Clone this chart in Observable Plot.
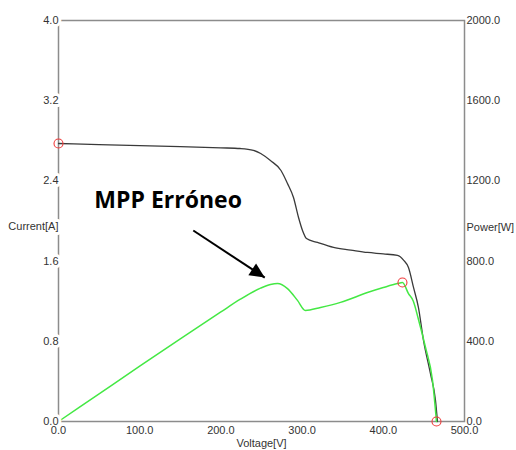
<!DOCTYPE html>
<html><head><meta charset="utf-8">
<script src="https://cdn.jsdelivr.net/npm/d3@7"></script>
<script src="https://cdn.jsdelivr.net/npm/@observablehq/plot@0.6"></script>
<style>body{margin:0;background:#fff} svg{display:block}</style>
</head><body><div id="chart"></div>
<script>
// I-V curve (current, A)
const currentVoltage = [0, 50, 100, 150, 200, 224, 240, 249, 261, 274, 282, 289.4, 295.6, 300.5, 305.4, 319, 338.7, 360, 380.5, 400, 417.5, 424.9, 431, 437.2, 443.3, 449.5, 458, 464.3, 466.7];
const currentAmps    = [2.773, 2.762, 2.752, 2.742, 2.73, 2.723, 2.705, 2.673, 2.603, 2.504, 2.374, 2.234, 2.035, 1.905, 1.825, 1.786, 1.736, 1.71, 1.686, 1.672, 1.656, 1.61, 1.536, 1.337, 1.137, 0.808, 0.479, 0.209, 0];
// P-V curve (power, W)
const powerVoltage = [0, 50, 100, 150, 199.5, 224, 248.8, 261, 269.7, 282, 294.3, 304, 322.7, 347.3, 380.5, 400, 417.5, 423.6, 431, 437, 443, 452, 460.6, 465.5];
const powerWatts   = [0, 138, 276, 412, 545, 610, 665, 683, 688, 663, 604, 554, 569, 594, 643, 668, 688, 693, 638, 600, 514, 369, 205, 0];
// tick labels
const voltageTicks = [0, 100, 200, 300, 400, 500];
const currentTicks = [0, 0.8, 1.6, 2.4, 3.2, 4.0];
const powerTicks   = [0, 400, 800, 1200, 1600, 2000];
// red marker circles
const markerVoltage = [0, 423.6, 465.5];
const markerSeries  = ["current", "power", "power"];
const markerValue   = [2.773, 693, 0];
// annotation
const annotationText = ["MPP Erróneo"];
const annotationVoltage = [135];
const annotationCurrent = [2.2];
const arrowFromVoltage = [166], arrowFromCurrent = [1.905];
const arrowToVoltage = [254], arrowToCurrent = [1.436];

const W = 516, H = 450, mL = 58, mR = 52, mT = 20, mB = 29;
const vMax = 500, iMax = 4, pMax = 2000;
const pk = pMax / iMax; // watts per amp on shared vertical scale

const currentData = currentVoltage.map((v, i) => ({v, a: currentAmps[i]}));
const powerData = powerVoltage.map((v, i) => ({v, a: powerWatts[i] / pk}));
const markers = markerVoltage.map((v, i) => ({v, a: markerSeries[i] === "power" ? markerValue[i] / pk : markerValue[i]}));
const arrows = arrowFromVoltage.map((v, i) => ({x1: v, y1: arrowFromCurrent[i], x2: arrowToVoltage[i], y2: arrowToCurrent[i]}));

// direction of the arrow in screen space for the filled head
const sx = d3.scaleLinear([0, vMax], [mL, W - mR]);
const sy = d3.scaleLinear([0, iMax], [H - mB, mT]);
const ang = Math.atan2(sy(arrows[0].y2) - sy(arrows[0].y1), sx(arrows[0].x2) - sx(arrows[0].x1));
const arrowHead = {
  draw(ctx) {
    const L = 15, w = 7, c = Math.cos(ang), s = Math.sin(ang);
    const pt = (x, y) => [x * c - y * s, x * s + y * c];
    const a = pt(0, 0), b = pt(-L, -w), d = pt(-L, w);
    ctx.moveTo(a[0], a[1]); ctx.lineTo(b[0], b[1]); ctx.lineTo(d[0], d[1]); ctx.closePath();
  }
};

const chart = Plot.plot({
  width: W, height: H,
  marginLeft: mL, marginRight: mR, marginTop: mT, marginBottom: mB,
  x: {domain: [0, vMax], axis: null},
  y: {domain: [0, iMax], axis: null},
  style: {fontFamily: "'Liberation Sans', Arial, sans-serif", fontSize: "11px", color: "#333", background: "#fff"},
  marks: [
    Plot.frame({stroke: "#8c8c8c", strokeWidth: 1.5}),
    Plot.line(currentData, {x: "v", y: "a", stroke: "#3a3a3a", strokeWidth: 1.3, curve: "monotone-x"}),
    Plot.line(powerData, {x: "v", y: "a", stroke: "#44e844", strokeWidth: 1.5, curve: "monotone-x"}),
    Plot.dot(markers, {x: "v", y: "a", r: 4.5, stroke: "#f03c3c", strokeWidth: 1.1, fill: "none"}),
    Plot.text(currentTicks, {y: d => d, frameAnchor: "left", textAnchor: "end", text: d => d.toFixed(1), fill: "#333", stroke: "white", strokeWidth: 6}),
    Plot.text(["Current[A]"], {frameAnchor: "left", textAnchor: "end", dy: 5, text: d => d, fill: "#333", stroke: "white", strokeWidth: 6}),
    Plot.text(powerTicks, {y: d => d / pk, frameAnchor: "right", textAnchor: "start", dx: 2, text: d => d.toFixed(1), fill: "#333"}),
    Plot.text(["Power[W]"], {frameAnchor: "right", textAnchor: "start", dx: 2, dy: 6, text: d => d, fill: "#333"}),
    Plot.text(voltageTicks, {x: d => d, frameAnchor: "bottom", dy: 12, text: d => d.toFixed(1), fill: "#333"}),
    Plot.text(["Voltage[V]"], {frameAnchor: "bottom", dy: 25, text: d => d, fill: "#333"}),
    Plot.link(arrows, {x1: "x1", y1: "y1", x2: "x2", y2: "y2", stroke: "black", strokeWidth: 2}),
    Plot.dot(arrows, {x: "x2", y: "y2", symbol: arrowHead, fill: "black", stroke: "none"}),
    Plot.text(annotationText, {x: (d, i) => annotationVoltage[i], y: (d, i) => annotationCurrent[i], text: d => d,
      fontFamily: "'Open Sans', Lato, sans-serif", fontWeight: "bold", fontSize: 23, fill: "black"})
  ]
});
document.getElementById("chart").appendChild(chart);
</script>
</body></html>
